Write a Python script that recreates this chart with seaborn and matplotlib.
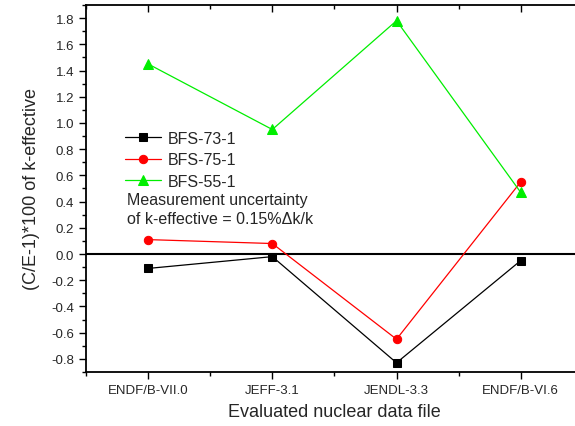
import pandas as pd
import matplotlib
matplotlib.use('Agg')
import matplotlib.pyplot as plt
from matplotlib.ticker import MultipleLocator
import seaborn as sns

libraries = ['ENDF/B-VII.0', 'JEFF-3.1', 'JENDL-3.3', 'ENDF/B-VI.6']
bfs_73_1 = [-0.11, -0.02, -0.83, -0.05]
bfs_75_1 = [0.11, 0.08, -0.65, 0.55]
bfs_55_1 = [1.45, 0.95, 1.78, 0.47]

sns.set_style('ticks')
plt.rcParams['font.family'] = ['Liberation Sans', 'DejaVu Sans']

fig = plt.figure(figsize=(5.75, 4.27), dpi=100)
ax = fig.add_axes([0.1496, 0.1265, 0.864, 0.8595])

series = [
    ('BFS-73-1', bfs_73_1, 'black', 's', 5.5),
    ('BFS-75-1', bfs_75_1, 'red', 'o', 6),
    ('BFS-55-1', bfs_55_1, '#00ee00', '^', 7),
]
for name, vals, col, mk, ms in series:
    df = pd.DataFrame({'lib': libraries, 'val': vals})
    sns.lineplot(data=df, x='lib', y='val', ax=ax, color=col, marker=mk,
                 markersize=ms, markeredgecolor=col, linewidth=0.9,
                 label=name, sort=False)

ax.axhline(0, color='black', linewidth=1.5, zorder=0)

ax.set_xlim(-0.5, 3.5)
ax.set_ylim(-0.9, 1.9)
ax.yaxis.set_minor_locator(MultipleLocator(0.1))
ax.xaxis.set_minor_locator(MultipleLocator(0.5))
ax.set_yticks([round(-0.8 + 0.2 * i, 1) for i in range(14)])
ax.set_yticklabels([f'{-0.8 + 0.2 * i:.1f}' for i in range(14)])

ax.tick_params(axis='both', which='both', labelsize=9.5, color='black', width=1)
ax.tick_params(axis='x', which='major', length=5, top=True, direction='out')
ax.tick_params(axis='x', which='minor', length=3, top=True)
ax.tick_params(axis='y', which='major', length=5)
ax.tick_params(axis='y', which='minor', length=3)
# top ticks point inward
for t in ax.xaxis.get_ticklines(minor=False)[1::2] + ax.xaxis.get_ticklines(minor=True)[1::2]:
    t.set_marker(3)

for s in ax.spines.values():
    s.set_linewidth(1.3)
    s.set_color('black')

ax.set_xlabel('Evaluated nuclear data file', fontsize=13, labelpad=5)
ax.set_ylabel('(C/E-1)*100 of k-effective', fontsize=13, labelpad=8)

leg = ax.legend(loc='upper left', bbox_to_anchor=(0.065, 0.675), frameon=False,
                fontsize=11.5, handlelength=2.3, labelspacing=0.42,
                borderaxespad=0, handletextpad=0.4)
ax.text(0.083, 0.49, 'Measurement uncertainty\nof k-effective = 0.15%\u0394k/k',
        transform=ax.transAxes, fontsize=11.5, va='top', ha='left',
        linespacing=1.35)

fig.savefig('out.png', dpi=100)
